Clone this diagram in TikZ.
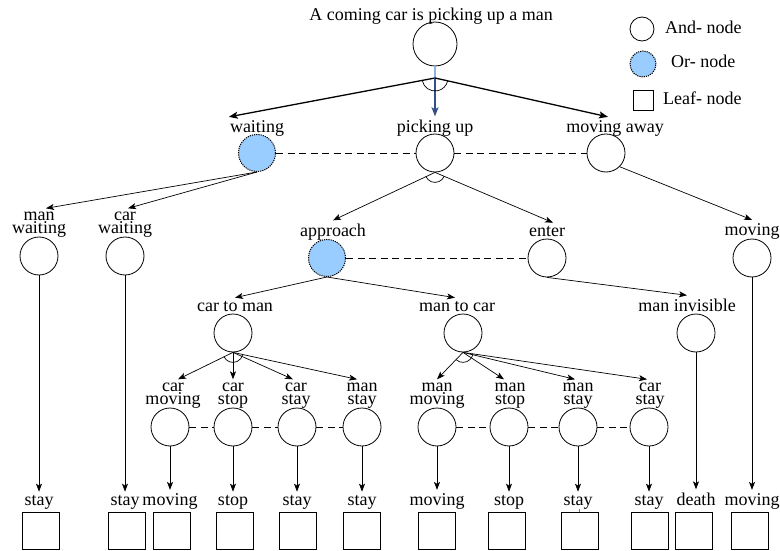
\documentclass[tikz,border=0pt]{standalone}
\usepackage{fontspec}
\setmainfont{Liberation Serif}
\usetikzlibrary{arrows.meta}
\definecolor{orblue}{RGB}{153,204,255}
\definecolor{jlight}{RGB}{140,178,228}
\definecolor{jdark}{RGB}{50,80,135}
\definecolor{tickblue}{RGB}{70,130,210}
\begin{document}
\begin{tikzpicture}[x=1pt,y=1pt,
  every node/.style={font=\fontsize{18}{13}\selectfont},
  andn/.style={circle,draw,line width=0.8pt,minimum size=38pt,inner sep=0pt},
  orn/.style={circle,draw=black,dash pattern=on 1.2pt off 1pt,line width=1pt,fill=orblue,minimum size=37pt,inner sep=0pt},
  leafn/.style={rectangle,draw,line width=0.8pt,minimum size=37pt,inner sep=0pt},
  lab/.style={inner xsep=1pt,inner ysep=3pt,align=center,anchor=base},
  arr/.style={-{Stealth[length=8pt,width=6pt,inset=2pt]},line width=0.7pt},
  toparr/.style={-{Stealth[length=9pt,width=7pt,inset=2pt]},line width=1.3pt},
  dline/.style={dash pattern=on 7pt off 4.5pt,line width=0.6pt},
  junc/.style={line width=0.7pt},
]
\useasboundingbox (0,0) rectangle (780,-551);

% ---- title and root
\node[lab] (tl) at (431,-21) {A coming car is picking up a man};
\node[andn,minimum size=44pt] (root) at (435,-44) {};
\coordinate (j0) at (435,-78);

% ---- legend
\node[andn,minimum size=24pt] (lga) at (642,-29) {};
\node[lab,anchor=base west] (lgat) at (664,-34) {And- node};
\node[orn,minimum size=26pt] (lgo) at (643,-64) {};
\node[lab,anchor=base west] (lgot) at (670,-68) {Or- node};
\node[leafn,minimum size=20pt] (lgl) at (643,-100) {};
\node[lab,anchor=base west] (lglt) at (662,-105) {Leaf- node};

% ---- level 2
\node[lab] (wl) at (257,-132) {waiting};
\node[orn] (w) at (257,-153) {};
\node[lab] (pul) at (435,-132) {picking up};
\node[andn] (pu) at (435,-153) {};
\node[lab] (mal) at (615,-132) {moving away};
\node[andn] (ma) at (606,-153) {};

\draw[jlight,line width=1.3pt] (root.south) -- (j0);
\draw[toparr] (j0) -- (wl.north west);
\draw[toparr,jdark] (j0) -- (pul.north);
\draw[toparr] (j0) -- ([xshift=-7pt]mal.north);
\draw[junc] (j0) ++(191:13) arc[start angle=191,end angle=348,radius=13];
\draw[dline] (w.east) -- (pu.west);
\draw[dline] (pu.east) -- (ma.west);

% ---- level 3 (waiting children)
\node[lab] (mwl) at (39,-233) {man\\waiting};
\node[andn] (mw) at (39,-256) {};
\node[lab] (cwl) at (125,-233) {car\\waiting};
\node[andn] (cw) at (125,-256) {};
\draw[arr] (w.south) -- ([xshift=7pt]mwl.north);
\draw[arr] (w.south) -- ([xshift=3pt]cwl.north);

% ---- level 4
\node[lab] (apl) at (333,-236) {approach};
\node[orn] (ap) at (327,-258) {};
\node[lab] (enl) at (547,-236) {enter};
\node[andn] (en) at (547,-258) {};
\node[lab] (mvl) at (752,-235) {moving};
\node[andn] (mv) at (752,-258) {};
\draw[arr] (pu.south) -- (apl.north);
\draw[arr] (pu.south) -- ([xshift=6pt]enl.north);
\draw[arr] (ma.south east) -- (mvl.north);
\draw[junc] (pu.south) ++(203:10) arc[start angle=203,end angle=338,radius=10];
\draw[dline] (ap.east) -- (en.west);

% ---- level 5
\node[lab] (ctml) at (235,-311) {car to man};
\node[andn] (ctm) at (233,-333) {};
\node[lab] (mtcl) at (457,-311) {man to car};
\node[andn] (mtc) at (463,-333) {};
\node[lab] (mil) at (687,-311) {man invisible};
\node[andn] (mi) at (696,-333) {};
\draw[arr] (ap.south) -- (ctml.north);
\draw[arr] (ap.south) -- ([xshift=-2pt]mtcl.north);
\draw[arr] (en.south) -- (mil.north);

% ---- level 6
\node[lab] (cml) at (173,-404) {car\\moving};
\node[andn] (cm) at (170,-427) {};
\node[lab] (csl) at (233,-404) {car\\stop};
\node[andn] (cs) at (233,-427) {};
\node[lab] (cyl) at (296,-404) {car\\stay};
\node[andn] (cy) at (297,-427) {};
\node[lab] (msl) at (362,-404) {man\\stay};
\node[andn] (ms) at (362,-427) {};
\node[lab] (mml) at (437,-404) {man\\moving};
\node[andn] (mm) at (437,-427) {};
\node[lab] (mpl) at (510,-404) {man\\stop};
\node[andn] (mp) at (509,-427) {};
\node[lab] (myl) at (578,-404) {man\\stay};
\node[andn] (my) at (578,-427) {};
\node[lab] (cwl2) at (650,-404) {car\\stay};
\node[andn] (cw2) at (649,-427) {};

\draw[arr] (ctm.south) -- ([xshift=5pt]cml.north);
\draw[arr] (ctm.south) -- (csl.north);
\draw[arr] (ctm.south) -- ([xshift=-3pt]cyl.north);
\draw[arr] (ctm.south) -- ([xshift=-5pt]msl.north);
\draw[junc] (ctm.south) ++(204:10) arc[start angle=204,end angle=348,radius=10];
\draw[arr] (mtc.south) -- (mml.north);
\draw[arr] (mtc.south) -- ([xshift=-6pt]mpl.north);
\draw[arr] (mtc.south) -- ([xshift=-3pt]myl.north);
\draw[arr] (mtc.south) -- ([xshift=-3pt]cwl2.north);
\draw[junc] (mtc.south) ++(227:10) arc[start angle=227,end angle=352,radius=10];

\draw[dline] (cm.east) -- (cs.west);
\draw[dline] (cs.east) -- (cy.west);
\draw[dline] (cy.east) -- (ms.west);
\draw[dline] (mm.east) -- (mp.west);
\draw[dline] (mp.east) -- (my.west);
\draw[dline] (my.east) -- (cw2.west);

% ---- leaves
\node[lab] (l1) at (39,-505) {stay};
\node[leafn] (s1) at (41,-530.5) {};
\node[lab] (l2) at (125,-505) {stay};
\node[leafn] (s2) at (127,-530.5) {};
\node[lab] (l3) at (170,-505) {moving};
\node[leafn] (s3) at (172,-530.5) {};
\node[lab] (l4) at (233,-505) {stop};
\node[leafn] (s4) at (235,-530.5) {};
\node[lab] (l5) at (297,-505) {stay};
\node[leafn] (s5) at (298,-530.5) {};
\node[lab] (l6) at (362,-505) {stay};
\node[leafn] (s6) at (362,-530.5) {};
\node[lab] (l7) at (437,-505) {moving};
\node[leafn] (s7) at (437,-530.5) {};
\node[lab] (l8) at (509,-505) {stop};
\node[leafn] (s8) at (507,-530.5) {};
\node[lab] (l9) at (578,-505) {stay};
\node[leafn] (s9) at (580,-530.5) {};
\node[lab] (l10) at (649,-505) {stay};
\node[leafn] (s10) at (650,-530.5) {};
\node[lab] (l11) at (696,-505) {death};
\node[leafn] (s11) at (694,-530.5) {};
\node[lab] (l12) at (752,-505) {moving};
\node[leafn] (s12) at (750,-530.5) {};

\draw[arr] (mw.south) -- (l1.north);
\draw[arr] (cw.south) -- (l2.north);
\draw[arr] (cm.south) -- (l3.north);
\draw[arr] (cs.south) -- (l4.north);
\draw[arr] (cy.south) -- (l5.north);
\draw[arr] (ms.south) -- (l6.north);
\draw[arr] (mm.south) -- (l7.north);
\draw[arr] (mp.south) -- (l8.north);
\draw[arr] (my.south) -- (l9.north);
\draw[arr] (cw2.south) -- (l10.north);
\draw[arr] (mi.south) -- (l11.north);
\draw[arr] (mv.south) -- (l12.north);
\draw[tickblue,line width=0.6pt] ([xshift=-1pt]s9.north) -- ++(0,3);
\end{tikzpicture}
\end{document}
